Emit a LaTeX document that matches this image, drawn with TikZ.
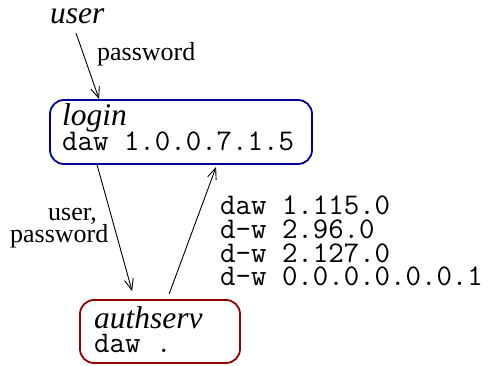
\documentclass[tikz,border=0pt]{standalone}
\usepackage{fontspec}
\setmainfont{Liberation Serif}
\usetikzlibrary{arrows.meta,calc}
\definecolor{boxblue}{RGB}{0,0,150}
\definecolor{boxred}{RGB}{150,0,0}
\tikzset{
  box/.style={draw, line width=1.8pt, rounded corners=14pt, inner sep=0pt},
  ital/.style={anchor=base west, inner sep=0pt, font=\fontsize{31.5}{36}\selectfont\itshape},
  rom/.style={inner sep=0pt, font=\fontsize{26}{24}\selectfont},
  mono/.style={anchor=base west, inner sep=0pt, font=\fontsize{30}{24}\selectfont\ttfamily},
  conn/.style={line width=0.9pt, -{Straight Barb[length=11pt,width=9pt,line width=0.9pt]}}
}
\begin{document}
\begin{tikzpicture}[x=1pt,y=-1pt]
\useasboundingbox (0,0) rectangle (489,366);
% boxes
\node[box, draw=boxblue, minimum width=262pt, minimum height=64pt] (login) at (181,132) {};
\node[box, draw=boxred, minimum width=160pt, minimum height=63pt] (auth) at (160,331.5) {};
% texts
\node[ital] (usertxt) at (50,24) {user};
\node[rom, anchor=base west] (pw) at (97,61) {password};
\node[ital] (logintxt) at (62,126) {login};
\node[mono] (logindaw) at (62,150) {daw 1.0.0.7.1.5};
\node[ital] (authtxt) at (94,328) {authserv};
\node[mono] (authdaw) at (94,352) {daw .};
\node[rom, anchor=base west] (u1) at (48,220) {user,};
\node[rom, anchor=base west] (u2) at (10,242) {password};
\node[mono] (l1) at (220,214) {daw 1.115.0};
\node[mono] (l2) at (220,238) {d-w 2.96.0};
\node[mono] (l3) at (220,262) {d-w 2.127.0};
\node[mono] (l4) at (220,285) {d-w 0.0.0.0.0.0.1};
% connectors
\coordinate (ustart) at (76,33);
\draw[conn] (ustart) -- ($(login.north west)+(50,0)$);
\draw[conn] ($(login.south west)+(48,0)$) -- ($(auth.north west)+(53,-8)$);
\draw[conn] ($(auth.north west)+(90,-5)$) -- ($(login.south west)+(167,2)$);
\end{tikzpicture}
\end{document}
